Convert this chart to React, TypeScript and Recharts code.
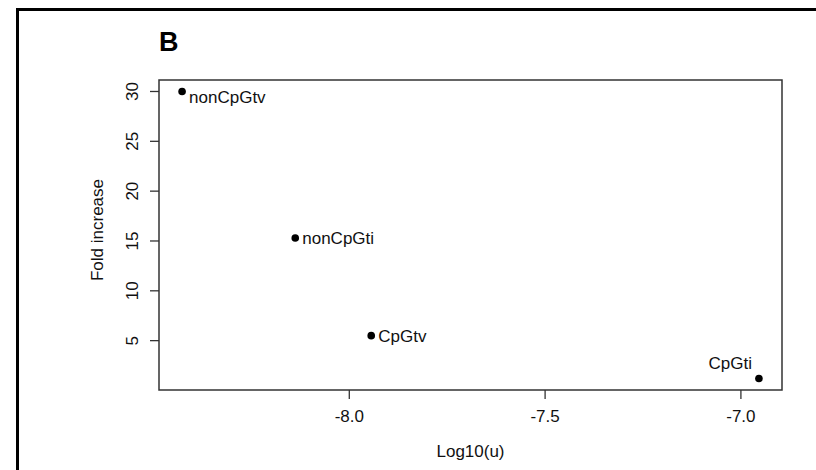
import { ScatterChart, Scatter, XAxis, YAxis, ReferenceArea, Label } from 'recharts';

// mutation classes and their values
const labels = ['nonCpGtv', 'nonCpGti', 'CpGtv', 'CpGti'];
const log10u = [-8.427, -8.138, -7.944, -6.954];
const foldIncrease = [30.0, 15.3, 5.5, 1.2];

const xTicks = [-8.0, -7.5, -7.0];
const yTicks = [5, 10, 15, 20, 25, 30];

const points = labels.map((name, i) => ({ name, x: log10u[i], y: foldIncrease[i] }));

// R style axis padding (4% each side)
const pad = (vals: number[]): [number, number] => {
  const lo = Math.min(...vals);
  const hi = Math.max(...vals);
  const r = hi - lo;
  return [lo - 0.04 * r, hi + 0.04 * r];
};
const xDomain = pad(log10u);
const yDomain = pad(foldIncrease);

const font = '"Liberation Sans", Arial, Helvetica, sans-serif';
const ink = '#111';
const axisGray = '#333';

// labels sit right of the point, except the last one which goes up-left
const labelPlace: Record<string, { dx: number; dy: number; anchor: 'start' | 'end' }> = {
  nonCpGtv: { dx: 7, dy: 11.5, anchor: 'start' },
  nonCpGti: { dx: 7, dy: 6, anchor: 'start' },
  CpGtv: { dx: 7, dy: 6, anchor: 'start' },
  CpGti: { dx: -7, dy: -9.5, anchor: 'end' },
};

const Dot = (props: any) => {
  const { cx, cy, payload } = props;
  const p = labelPlace[payload.name];
  return (
    <g>
      <circle cx={cx} cy={cy} r={3.8} fill="#000" />
      <text x={cx + p.dx} y={cy + p.dy} textAnchor={p.anchor} fontSize={17} fontFamily={font} fill={ink}>
        {payload.name}
      </text>
    </g>
  );
};

const XTick = (props: any) => {
  const { x, y, payload } = props;
  return (
    <text x={x} y={y + 21} textAnchor="middle" fontSize={17} fontFamily={font} fill={ink}>
      {Number(payload.value).toFixed(1)}
    </text>
  );
};

const YTick = (props: any) => {
  const { x, y, payload } = props;
  const tx = x - 10;
  return (
    <text x={tx} y={y} transform={`rotate(-90, ${tx}, ${y})`} textAnchor="middle" fontSize={17} fontFamily={font} fill={ink}>
      {payload.value}
    </text>
  );
};

const YTitle = (props: any) => {
  const vb = props.viewBox;
  const tx = vb.x + 4;
  const ty = vb.y + vb.height / 2 - 5;
  return (
    <text x={tx} y={ty} transform={`rotate(-90, ${tx}, ${ty})`} textAnchor="middle" fontSize={17} fontFamily={font} fill={ink}>
      Fold increase
    </text>
  );
};

export default function App() {
  return (
    <div style={{ position: 'relative', width: 816, height: 470, overflow: 'hidden', background: '#fff' }}>
      <style>{'body{margin:0}'}</style>
      <div
        style={{
          position: 'absolute',
          left: 16,
          top: 8,
          width: 840,
          height: 500,
          borderLeft: '3px solid #000',
          borderTop: '3px solid #000',
        }}
      />
      <div
        style={{
          position: 'absolute',
          left: 159,
          top: 26,
          fontFamily: font,
          fontWeight: 'bold',
          fontSize: 27,
          color: '#000',
          lineHeight: '32px',
        }}
      >
        B
      </div>
      <div style={{ position: 'absolute', left: 0, top: 0 }}>
        <ScatterChart width={816} height={470} margin={{ top: 80, right: 34, bottom: 10, left: 99 }}>
          <XAxis
            type="number"
            dataKey="x"
            domain={xDomain}
            ticks={xTicks}
            allowDataOverflow
            axisLine={false}
            tickLine={{ stroke: axisGray, strokeWidth: 1.3 }}
            tickSize={9}
            tick={<XTick />}
            height={70}
            interval={0}
          >
            <Label value="Log10(u)" position="insideBottom" offset={3} fontSize={17} fontFamily={font} fill={ink} />
          </XAxis>
          <YAxis
            type="number"
            dataKey="y"
            domain={yDomain}
            ticks={yTicks}
            allowDataOverflow
            axisLine={false}
            tickLine={{ stroke: axisGray, strokeWidth: 1.3 }}
            tickSize={9}
            tick={<YTick />}
            width={60}
            interval={0}
            label={{ content: <YTitle /> }}
          />
          <ReferenceArea
            x1={xDomain[0]}
            x2={xDomain[1]}
            y1={yDomain[0]}
            y2={yDomain[1]}
            fill="none"
            fillOpacity={0}
            stroke={axisGray}
            strokeWidth={1.5}
            ifOverflow="visible"
          />
          <Scatter data={points} shape={<Dot />} isAnimationActive={false} />
        </ScatterChart>
      </div>
    </div>
  );
}
